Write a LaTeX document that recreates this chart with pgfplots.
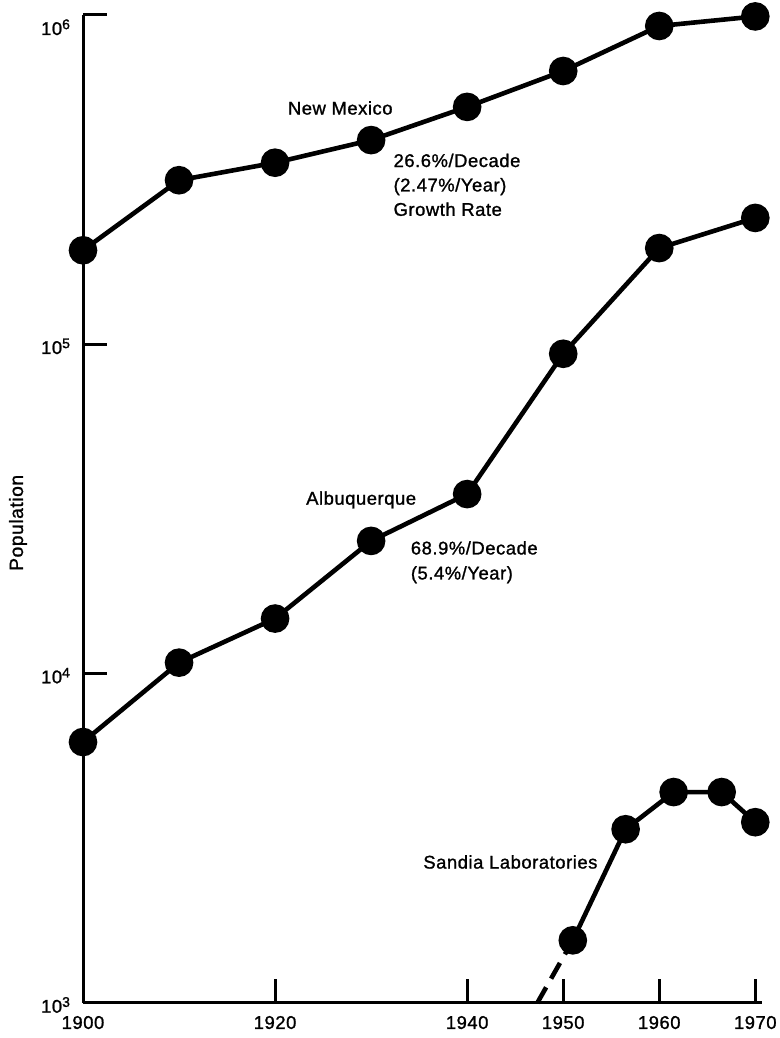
\documentclass[border=0pt]{standalone}
\usepackage{fontspec}
\setmainfont{Liberation Sans}[FakeBold=1.2, LetterSpace=3]
\usepackage{pgfplots}
\pgfplotsset{compat=1.18}
\newcommand{\pw}[1]{10\raisebox{0.6ex}{\fontsize{7}{8}\selectfont #1}}
\begin{document}
\begin{tikzpicture}
\begin{axis}[
  at={(0,0)}, anchor=south west,
  scale only axis, width=339.5pt, height=494pt,
  ymode=log, xmin=1900, xmax=1970.7, ymin=1000, ymax=1e6,
  axis x line=bottom, axis y line=left,
  axis line style={-, line width=1.5pt},
  xtick={1900,1920,1940,1950,1960,1970},
  xticklabels={1900,1920,1940,1950,1960,1970},
  ytick={1000,10000,100000,1000000},
  yticklabels={\pw{3},\pw{4},\pw{5},\raisebox{-9pt}[0pt][0pt]{\pw{6}}},
  yminorticks=false, xminorticks=false,
  tick align=inside, major tick length=12pt,
  tick style={line width=1.5pt, black},
  every tick label/.append style={font=\fontsize{9.2}{10}\selectfont},
  xticklabel style={yshift=-3pt},
  yticklabel style={yshift=-1pt, xshift=-3pt},
  ylabel={Population},
  ylabel style={at={(axis description cs:-0.0957,0.486)}, anchor=center, rotate=0, font=\fontsize{9.6}{11}\selectfont},
  clip=false,
]
% New Mexico
\addplot[black, line width=2.3pt, mark=*, mark size=6pt, mark options={solid, fill=black}] coordinates {(1900,193000) (1910,315000) (1920,356000) (1930,417000) (1940,526000) (1950,676000) (1960,926000) (1970,990000)};
% Albuquerque
\addplot[black, line width=2.3pt, mark=*, mark size=6pt, mark options={solid, fill=black}] coordinates {(1900,6200) (1910,10800) (1920,14700) (1930,25300) (1940,35100) (1950,93600) (1960,196000) (1970,242000)};
% Sandia Laboratories
\addplot[black, line width=2.3pt, mark=*, mark size=6pt, mark options={solid, fill=black}] coordinates {(1951,1550) (1956.5,3370) (1961.5,4370) (1966.5,4370) (1970,3540)};
\addplot[black, line width=2.3pt, dash pattern=on 9pt off 5pt, mark=none] coordinates {(1947.3,1000) (1951,1550)};
\node[anchor=west, inner sep=0pt, font=\fontsize{9.2}{10}\selectfont] at (axis cs:1921.3,5.22e5) {New Mexico};
\node[anchor=west, inner sep=0pt, align=left, font=\fontsize{9.2}{12.2}\selectfont] at (axis cs:1932.3,3.05e5) {26.6\%/Decade\\(2.47\%/Year)\\Growth Rate};
\node[anchor=west, inner sep=0pt, font=\fontsize{9.2}{10}\selectfont] at (axis cs:1923.2,3.37e4) {Albuquerque};
\node[anchor=west, inner sep=0pt, align=left, font=\fontsize{9.2}{12.5}\selectfont] at (axis cs:1934.1,2.18e4) {68.9\%/Decade\\(5.4\%/Year)};
\node[anchor=west, inner sep=0pt, font=\fontsize{9.2}{10}\selectfont] at (axis cs:1935.4,2680) {Sandia Laboratories};
\end{axis}
\pgfresetboundingbox
\path (-41.5pt,-17.5pt) rectangle (348.5pt,501.5pt);
\end{tikzpicture}
\end{document}
